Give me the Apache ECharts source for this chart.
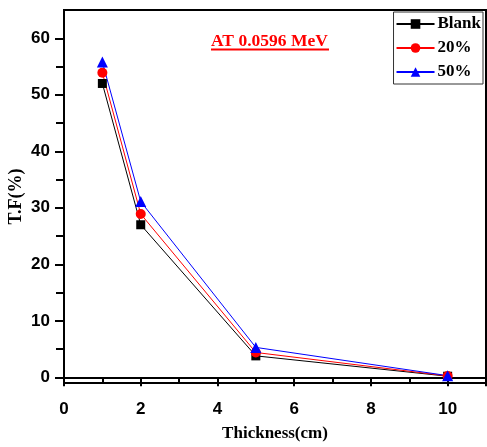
<!DOCTYPE html>
<html>
<head>
<meta charset="utf-8">
<script src="https://cdn.jsdelivr.net/npm/echarts@6/dist/echarts.min.js"></script>
<style>html,body{margin:0;padding:0;background:#fff}#main{width:487px;height:447px}</style>
</head>
<body>
<div id="main"></div>
<script>
// data
var thickness = [1, 2, 5, 10];
var blank = [52.0, 27.0, 3.8, 0.2];
var pct20 = [53.9, 28.9, 4.4, 0.25];
var pct50 = [55.8, 31.1, 5.3, 0.3];
var yMajor = [0, 10, 20, 30, 40, 50, 60];
var yMinor = [5, 15, 25, 35, 45, 55];
var yAll = [0, 5, 10, 15, 20, 25, 30, 35, 40, 45, 50, 55, 60];

function pairs(ys) {
    return thickness.map(function (x, i) { return [x, ys[i]]; });
}

var chart = echarts.init(document.getElementById('main'));
var serif = 'Liberation Serif';
var sans = 'Liberation Sans';

var option = {
    animation: false,
    backgroundColor: '#fff',
    title: {
        text: 'AT 0.0596 MeV',
        left: 211, top: 32, padding: 0,
        textStyle: { color: '#ff0000', fontFamily: serif, fontWeight: 'bold', fontSize: 17.5 }
    },
    graphic: [{
        type: 'line',
        shape: { x1: 211, y1: 49.5, x2: 329, y2: 49.5 },
        style: { stroke: '#ff0000', lineWidth: 2 }
    }],
    legend: {
        right: 4, top: 12,
        orient: 'vertical',
        backgroundColor: '#fff',
        borderColor: '#333', borderWidth: 1,
        padding: [3, 2, 3, 2],
        itemGap: 6,
        itemWidth: 38, itemHeight: 12,
        textStyle: { fontFamily: serif, fontWeight: 'bold', fontSize: 17, lineHeight: 18, color: '#000', padding: [0, 0, 0, -2] },
        data: ['Blank', '20%', '50%']
    },
    grid: {
        left: 64, right: 1, top: 10, bottom: 64,
        outerBoundsMode: 'none', containLabel: false,
        show: true, borderColor: '#000', borderWidth: 2
    },
    xAxis: [{
        type: 'value', min: 0, max: 11, interval: 2,
        name: 'Thickness(cm)', nameLocation: 'middle', nameGap: 42, nameMoveOverlap: false,
        nameTextStyle: { fontFamily: serif, fontWeight: 'bold', fontSize: 17, color: '#000' },
        axisLine: { lineStyle: { color: '#000', width: 2 } },
        axisTick: { inside: false, length: 9, lineStyle: { color: '#000', width: 2 } },
        minorTick: { show: true, splitNumber: 2, length: 6, lineStyle: { color: '#000', width: 2 } },
        axisLabel: { showMaxLabel: false, margin: 18, fontFamily: sans, fontWeight: 'bold', fontSize: 17, color: '#000' },
        splitLine: { show: false }
    }, {
        type: 'value', min: 0, max: 11, interval: 2, position: 'top',
        axisLine: { lineStyle: { color: '#000', width: 2 } },
        axisTick: { inside: true, length: 6, lineStyle: { color: '#000', width: 2 } },
        minorTick: { show: true, splitNumber: 2, length: 6, lineStyle: { color: '#000', width: 2 } },
        axisLabel: { show: false },
        splitLine: { show: false }
    }],
    yAxis: [{
        type: 'value', min: -1, max: 65,
        name: 'T.F(%)', nameLocation: 'middle', nameGap: 39, nameMoveOverlap: false,
        nameTextStyle: { fontFamily: serif, fontWeight: 'bold', fontSize: 18, color: '#000' },
        axisLine: { lineStyle: { color: '#000', width: 2 } },
        axisTick: { inside: false, length: 9, customValues: yMajor, lineStyle: { color: '#000', width: 2 } },
        axisLabel: { customValues: yMajor, margin: 14, fontFamily: sans, fontWeight: 'bold', fontSize: 17, color: '#000' },
        splitLine: { show: false }
    }, {
        type: 'value', min: -1, max: 65, position: 'right',
        axisLine: { lineStyle: { color: '#000', width: 2 } },
        axisTick: { inside: true, length: 8, customValues: yAll, lineStyle: { color: '#000', width: 2 } },
        axisLabel: { show: false },
        splitLine: { show: false }
    }, {
        type: 'value', min: -1, max: 65, position: 'left',
        axisLine: { show: false },
        axisTick: { inside: false, length: 6, customValues: yMinor, lineStyle: { color: '#000', width: 2 } },
        axisLabel: { show: false },
        splitLine: { show: false }
    }],
    series: [{
        name: 'Blank', type: 'line', data: pairs(blank),
        symbol: 'rect', symbolSize: 9,
        itemStyle: { color: '#000' }, lineStyle: { color: '#000', width: 1 }
    }, {
        name: '20%', type: 'line', data: pairs(pct20),
        symbol: 'circle', symbolSize: 10,
        itemStyle: { color: '#ff0000' }, lineStyle: { color: '#ff0000', width: 1 }
    }, {
        name: '50%', type: 'line', data: pairs(pct50),
        symbol: 'triangle', symbolSize: 11,
        itemStyle: { color: '#0000ff' }, lineStyle: { color: '#0000ff', width: 1 }
    }]
};

chart.setOption(option);
</script>
</body>
</html>
